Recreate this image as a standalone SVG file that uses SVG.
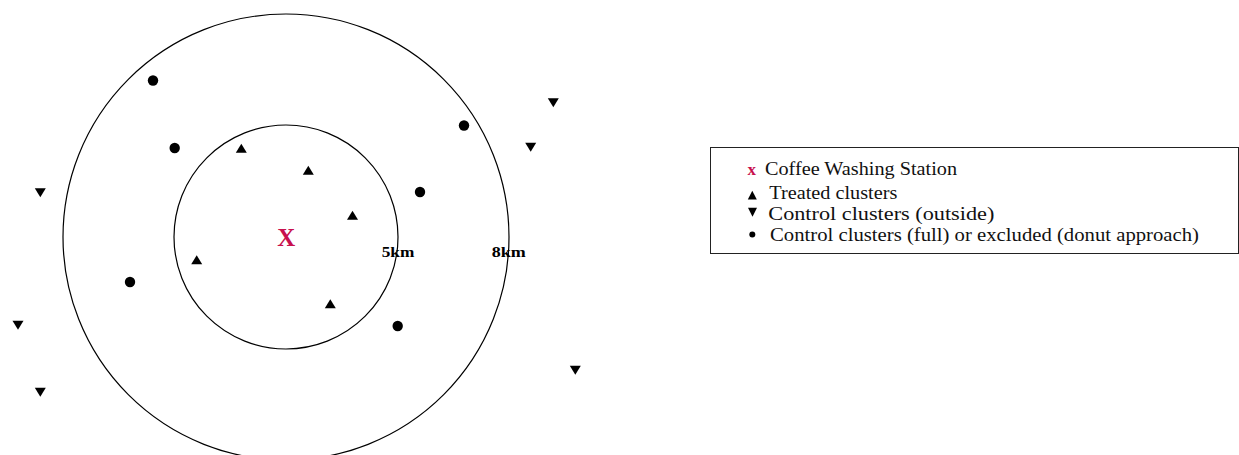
<svg xmlns="http://www.w3.org/2000/svg" width="1239" height="455" viewBox="0 0 1239 455">
<defs>
<style>
.ring{fill:none;stroke:#000;stroke-width:1.2}
.mk{fill:#000}
.km{font-family:"Liberation Serif","Times New Roman",serif;font-size:14.5px;font-weight:bold;fill:#000}
.lg{font-family:"Liberation Serif","Times New Roman",serif;font-size:19.5px;fill:#111}
.red{fill:#C8104E}
</style>
<polygon id="up" points="-5.5,4.3 5.5,4.3 0,-4.8"/>
<polygon id="down" points="-5.5,-4.3 5.5,-4.3 0,4.8"/>
</defs>
<rect x="0" y="0" width="1239" height="455" fill="#fff"/>

<g id="rings">
<circle class="ring" cx="286" cy="237" r="223"/>
<circle class="ring" cx="286" cy="237" r="112"/>
</g>

<g id="labels">
<text class="km" x="381.7" y="256.5" textLength="32.6" lengthAdjust="spacingAndGlyphs">5km</text>
<text class="km" x="491.7" y="256.5" textLength="34" lengthAdjust="spacingAndGlyphs">8km</text>
</g>

<g id="station">
<text x="286.2" y="245.5" text-anchor="middle" font-family="Liberation Serif, Times New Roman, serif" font-size="26" font-weight="bold" class="red" textLength="18" lengthAdjust="spacingAndGlyphs">X</text>
</g>

<g id="treated" class="mk">
<use href="#up" x="241.3" y="148.5"/>
<use href="#up" x="308.3" y="170.5"/>
<use href="#up" x="352.5" y="215.5"/>
<use href="#up" x="196.7" y="260"/>
<use href="#up" x="330.3" y="304"/>
</g>

<g id="control-outside" class="mk">
<use href="#down" x="553.3" y="102.5"/>
<use href="#down" x="530.7" y="147"/>
<use href="#down" x="575.3" y="370"/>
<use href="#down" x="40.3" y="192.5"/>
<use href="#down" x="18" y="325"/>
<use href="#down" x="40.3" y="392"/>
</g>

<g id="control-full" class="mk">
<circle cx="153" cy="80.5" r="5.2"/>
<circle cx="174.7" cy="148" r="5.2"/>
<circle cx="464" cy="125.5" r="5.2"/>
<circle cx="420" cy="192" r="5.2"/>
<circle cx="130" cy="282" r="5.2"/>
<circle cx="397.7" cy="326" r="5.2"/>
</g>

<g id="legend">
<rect x="710.5" y="147.5" width="528" height="106" fill="#fff" stroke="#222" stroke-width="1"/>
<text x="751.7" y="174.5" text-anchor="middle" font-family="Liberation Serif, Times New Roman, serif" font-size="17" font-weight="bold" class="red">x</text>
<text class="lg" x="765" y="175" textLength="192" lengthAdjust="spacingAndGlyphs">Coffee Washing Station</text>
<polygon class="mk" points="747.8,199.5 756.8,199.5 752.3,190.7"/>
<text class="lg" x="769.3" y="199.3" textLength="128" lengthAdjust="spacingAndGlyphs">Treated clusters</text>
<polygon class="mk" points="748,207.8 757,207.8 752.5,216.7"/>
<text class="lg" x="768.3" y="220" textLength="226" lengthAdjust="spacingAndGlyphs">Control clusters (outside)</text>
<circle class="mk" cx="752.3" cy="234.5" r="3"/>
<text class="lg" x="770" y="241" textLength="429" lengthAdjust="spacingAndGlyphs">Control clusters (full) or excluded (donut approach)</text>
</g>
</svg>
